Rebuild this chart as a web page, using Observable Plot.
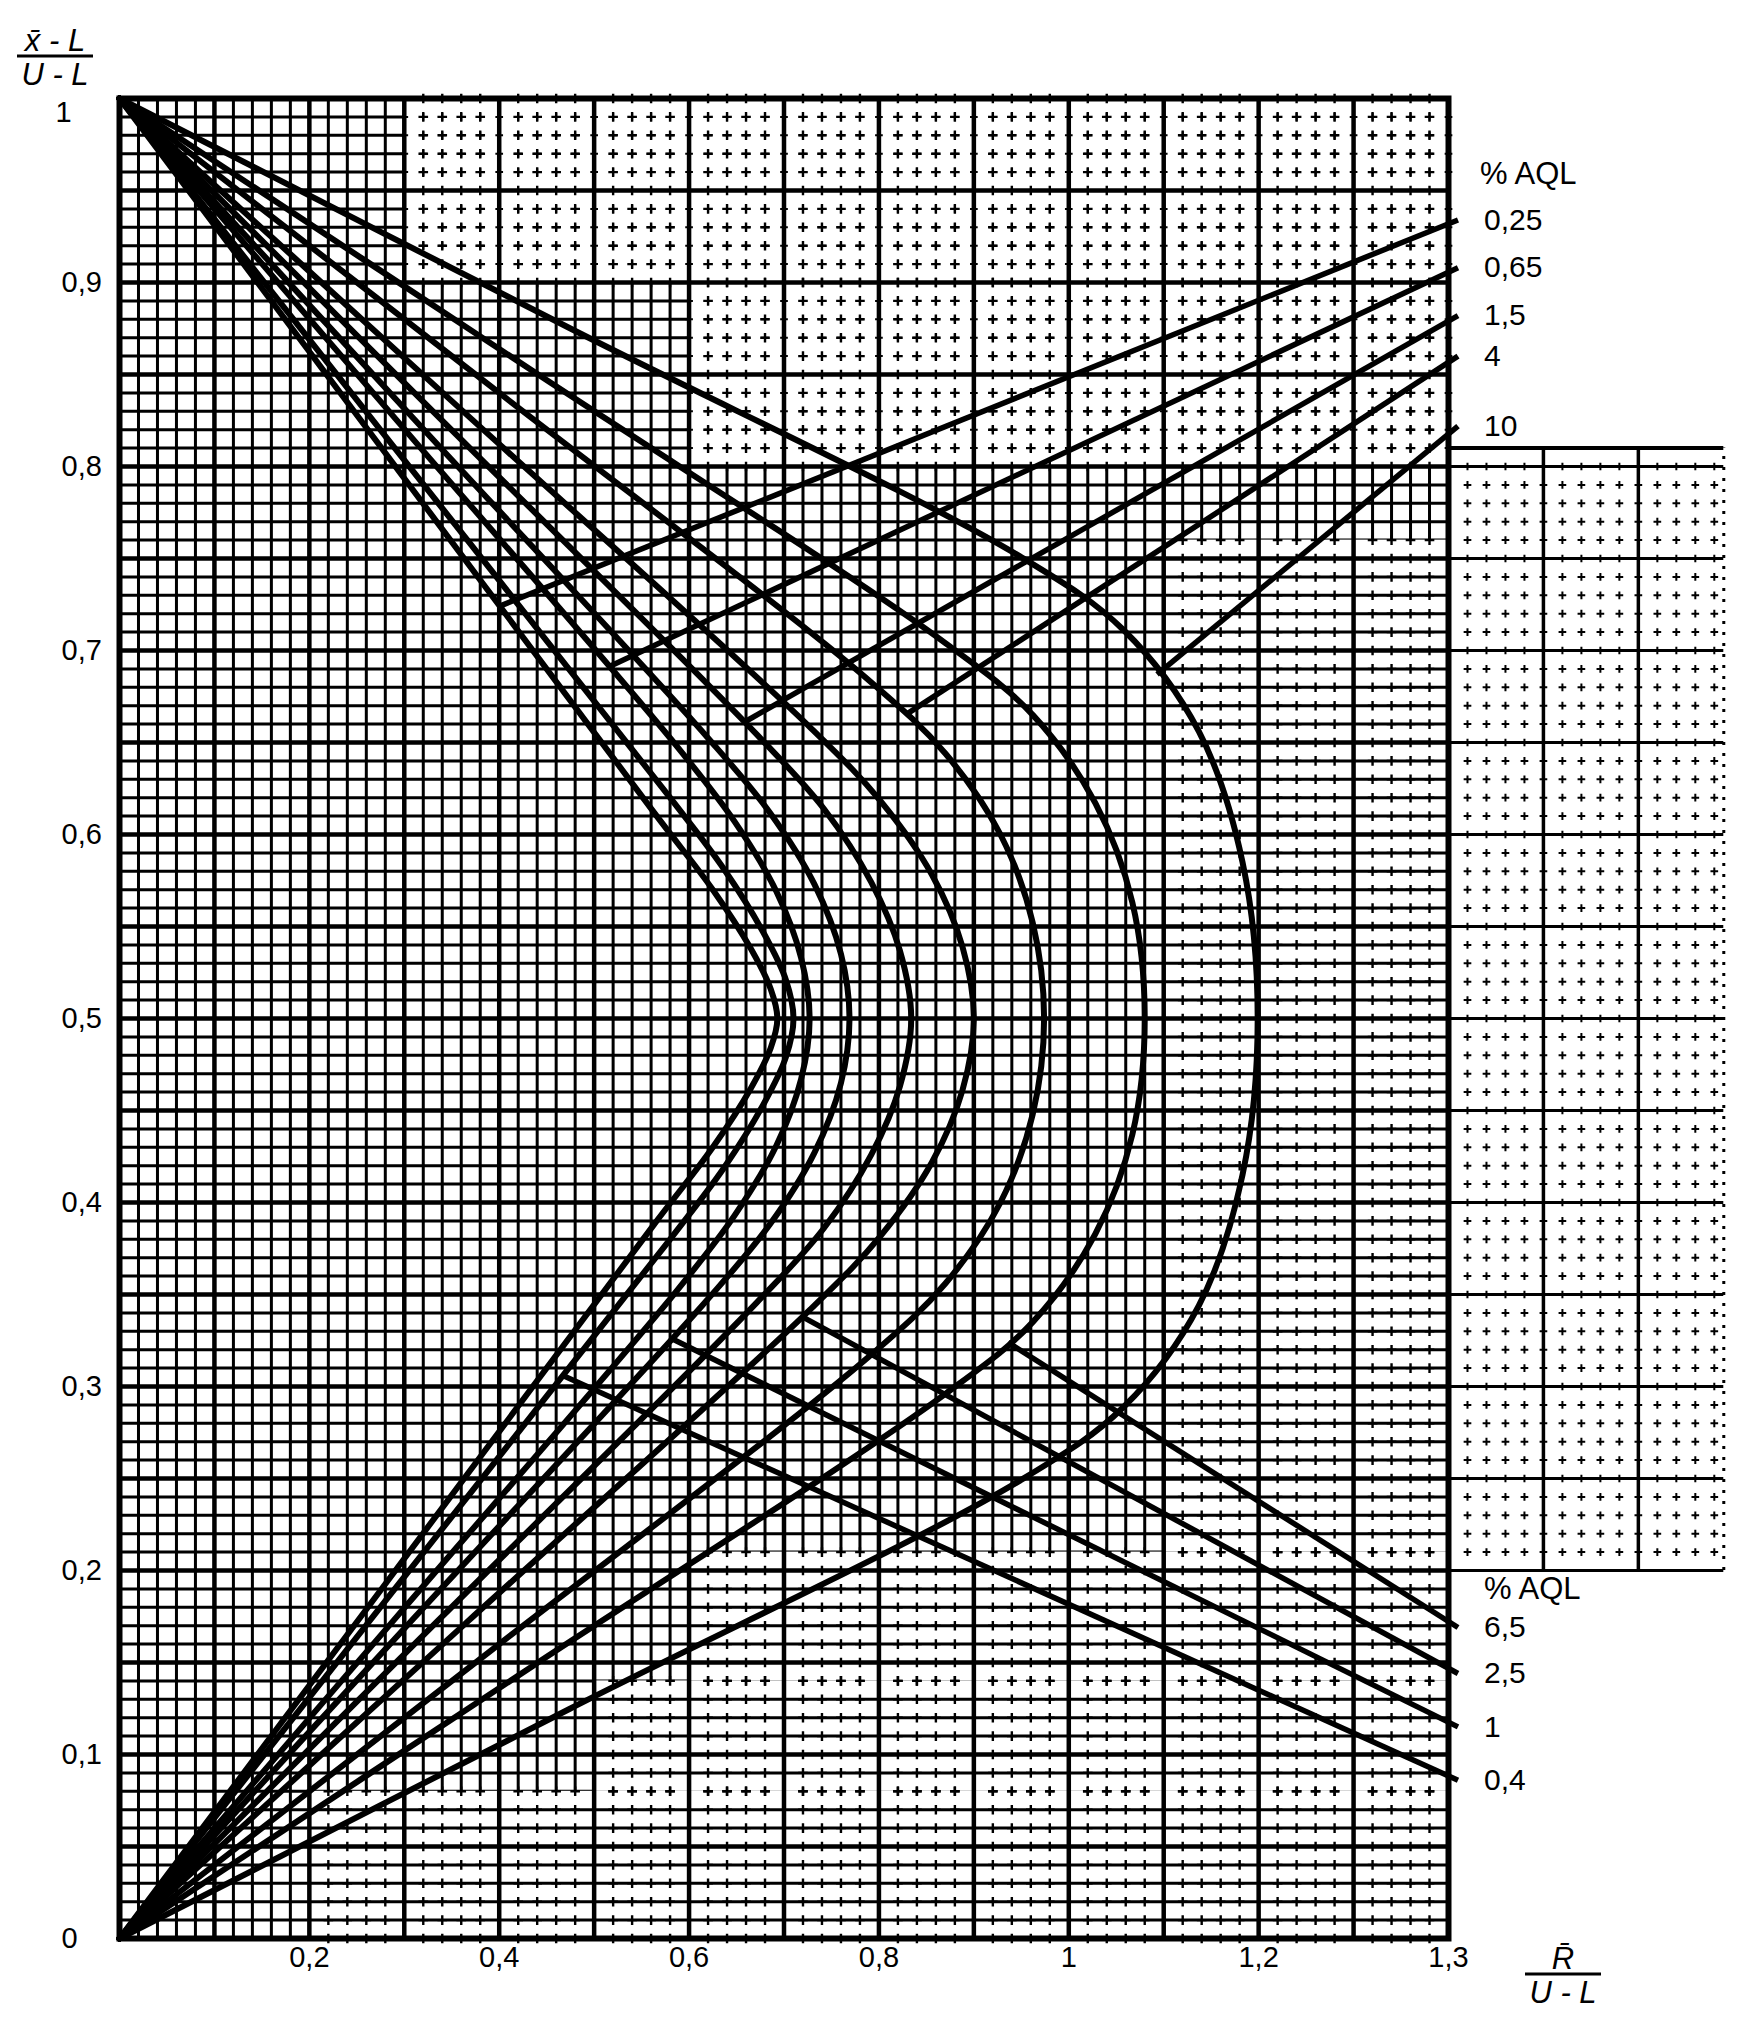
<!DOCTYPE html>
<html><head><meta charset="utf-8">
<script src="https://cdn.jsdelivr.net/npm/d3@7"></script>
<script src="https://cdn.jsdelivr.net/npm/@observablehq/plot@0.6"></script>
<style>body{margin:0;background:#fff}svg{display:block}</style>
</head><body><div id="chart"></div>
<script>
// ---- data ----
const aqlCurveNames = ["0,25","0,4","0,65","1","1,5","2,5","4","6,5","10"];
const curve_0_25 = [[0,0],[0.282,0.194],[0.563,0.388],[0.625,0.430],[0.665,0.462],[0.686,0.484],[0.693,0.5],[0.686,0.516],[0.665,0.538],[0.625,0.570],[0.563,0.612],[0.282,0.806],[0,1]];
const curve_0_4  = [[0,0],[0.29,0.19],[0.58,0.380],[0.637,0.419],[0.678,0.453],[0.702,0.479],[0.71,0.5],[0.702,0.521],[0.678,0.547],[0.637,0.581],[0.58,0.620],[0.29,0.81],[0,1]];
const curve_0_65 = [[0,0],[0.294,0.176],[0.587,0.352],[0.648,0.393],[0.692,0.431],[0.718,0.467],[0.727,0.5],[0.718,0.533],[0.692,0.569],[0.648,0.607],[0.587,0.648],[0.294,0.824],[0,1]];
const curve_1    = [[0,0],[0.31,0.174],[0.619,0.347],[0.685,0.388],[0.732,0.427],[0.760,0.465],[0.769,0.5],[0.760,0.535],[0.732,0.573],[0.685,0.612],[0.619,0.653],[0.31,0.826],[0,1]];
const curve_1_5  = [[0,0],[0.336,0.173],[0.672,0.346],[0.742,0.386],[0.792,0.426],[0.822,0.463],[0.834,0.5],[0.822,0.537],[0.792,0.574],[0.742,0.614],[0.672,0.654],[0.336,0.827],[0,1]];
const curve_2_5  = [[0,0],[0.364,0.171],[0.728,0.342],[0.802,0.382],[0.856,0.422],[0.888,0.461],[0.900,0.5],[0.888,0.539],[0.856,0.578],[0.802,0.618],[0.728,0.658],[0.364,0.829],[0,1]];
const curve_4    = [[0,0],[0.395,0.158],[0.789,0.316],[0.870,0.356],[0.928,0.400],[0.962,0.448],[0.974,0.5],[0.962,0.552],[0.928,0.600],[0.870,0.644],[0.789,0.684],[0.395,0.842],[0,1]];
const curve_6_5  = [[0,0],[0.435,0.148],[0.87,0.296],[0.962,0.335],[1.028,0.383],[1.067,0.437],[1.08,0.5],[1.067,0.563],[1.028,0.617],[0.962,0.665],[0.87,0.704],[0.435,0.852],[0,1]];
const curve_10   = [[0,0],[0.475,0.125],[0.949,0.249],[1.058,0.289],[1.137,0.344],[1.183,0.415],[1.199,0.5],[1.183,0.585],[1.137,0.656],[1.058,0.711],[0.949,0.751],[0.475,0.875],[0,1]];
const curveList = [curve_0_25, curve_0_4, curve_0_65, curve_1, curve_1_5, curve_2_5, curve_4, curve_6_5, curve_10];

// extension lines labelled at the right edge
const upperLabels = ["0,25","0,65","1,5","4","10"];
const upperStart  = [[0.40,0.724],[0.515,0.691],[0.658,0.661],[0.828,0.665],[1.093,0.687]];
const upperEnd    = [[1.41,0.934],[1.41,0.908],[1.41,0.882],[1.41,0.860],[1.41,0.822]];
const lowerLabels = ["6,5","2,5","1","0,4"];
const lowerStart  = [[0.936,0.324],[0.719,0.338],[0.582,0.326],[0.467,0.306]];
const lowerEnd    = [[1.41,0.169],[1.41,0.144],[1.41,0.115],[1.41,0.086]];
const groupHeader = "% AQL";

const xTickValues = [0.2,0.4,0.6,0.8,1,1.2,1.4];
const xTickLabels = ["0,2","0,4","0,6","0,8","1","1,2","1,3"];
const yTickValues = [0,0.1,0.2,0.3,0.4,0.5,0.6,0.7,0.8,0.9,1];
const yTickLabels = ["0","0,1","0,2","0,3","0,4","0,5","0,6","0,7","0,8","0,9","1"];

// ---- tables built from the arrays ----
const curveRows = curveList.flatMap((pts, c) => pts.map(([x, y]) => ({aql: aqlCurveNames[c], x, y})));
const extRows = [
  ...upperLabels.map((l, i) => ({aql: l, x1: upperStart[i][0], y1: upperStart[i][1], x2: upperEnd[i][0], y2: upperEnd[i][1]})),
  ...lowerLabels.map((l, i) => ({aql: l, x1: lowerStart[i][0], y1: lowerStart[i][1], x2: lowerEnd[i][0], y2: lowerEnd[i][1]}))
];
const yTickRows = yTickValues.map((v, i) => ({v, label: yTickLabels[i]}));

// graph-paper grid
const xMinor = d3.range(1, 70).filter(i => i % 5).map(i => i * 0.02);
const yMinor = d3.range(1, 100).filter(i => i % 5).map(i => i / 100);
const xMajor = d3.range(1, 14).map(i => i / 10);
const yMajor = d3.range(1, 20).map(i => i / 20);
// parts of the paper where the fine rulings are printed as dots / ticks only
const dottedBoth = [{x1:0.3,x2:1.4,y1:0.9,y2:1},{x1:0.6,x2:1.4,y1:0.8,y2:0.9}];
const dottedVert = [{x1:1.1,x2:1.4,y1:0.21,y2:0.76},{x1:0.2,x2:1.4,y1:0,y2:0.08},{x1:0.5,x2:1.4,y1:0.08,y2:0.14},{x1:0.6,x2:1.4,y1:0.14,y2:0.21}];
const allRegions = [...dottedBoth, ...dottedVert];
const regionHLines = [];
for (const r of dottedVert) for (const y of yMinor) if (y > r.y1 && y < r.y2) regionHLines.push({y, x1: r.x1, x2: r.x2});
const regionDots = [];
const yAll = d3.range(0, 101).map(i => i / 100);
for (const r of allRegions) for (const x of xMinor) for (const y of yAll) if (x > r.x1 && x < r.x2 && y >= r.y1 - 1e-9 && y <= r.y2 + 1e-9) regionDots.push({x, y});
const regionHDots = [];
const xAll = d3.range(0, 71).map(i => i * 0.02);
for (const r of dottedBoth) for (const y of yMinor) for (const x of xAll) if (y > r.y1 && y < r.y2 && x >= r.x1 - 1e-9 && x <= r.x2 + 1e-9) regionHDots.push({x, y});
// patch of paper to the right of the frame
const patchX = [1.4, 1.69], patchY = [0.2, 0.81];
const patchH = d3.range(4, 17).map(i => i / 20);
const patchV = [1.5, 1.6];
const patchDots = d3.cross(d3.range(71, 85).map(i => i * 0.02), d3.range(21, 81).map(i => i / 100)).map(([x, y]) => ({x, y}));

const chart = Plot.plot({
  width: 1747, height: 2026,
  marginLeft: 119, marginRight: 299, marginTop: 98, marginBottom: 88,
  x: {domain: [0, 1.4], axis: null},
  y: {domain: [0, 1], axis: null},
  style: {fontFamily: "'Liberation Sans', Arial, sans-serif", background: "#fff"},
  marks: [
    // patch on the right
    Plot.ruleY(patchH, {x1: patchX[0], x2: patchX[1], stroke: "#000", strokeWidth: 3}),
    Plot.ruleY([patchY[1]], {x1: patchX[0], x2: patchX[1], stroke: "#000", strokeWidth: 4}),
    Plot.ruleX(patchV, {y1: patchY[0], y2: patchY[1], stroke: "#000", strokeWidth: 3.5}),
    Plot.ruleX([patchX[1]], {y1: patchY[0], y2: patchY[1], stroke: "#000", strokeWidth: 3, strokeDasharray: "3,8"}),
    Plot.dot(patchDots, {x: "x", y: "y", r: 2.6, symbol: "plus", stroke: "#000", strokeWidth: 2}),
    // fine rulings
    Plot.ruleX(xMinor, {y1: 0, y2: 1, stroke: "#000", strokeWidth: 3}),
    Plot.ruleY(yMinor, {x1: 0, x2: 1.4, stroke: "#000", strokeWidth: 3}),
    // dotted parts: blank them, then redraw
    Plot.rect(allRegions, {x1: "x1", x2: "x2", y1: "y1", y2: "y2", fill: "#fff"}),
    Plot.ruleY(regionHLines, {y: "y", x1: "x1", x2: "x2", stroke: "#000", strokeWidth: 3}),
    Plot.dot(regionDots, {x: "x", y: "y", r: 3.2, symbol: "plus", stroke: "#000", strokeWidth: 2.4}),
    Plot.dot(regionHDots, {x: "x", y: "y", r: 2.6, symbol: "plus", stroke: "#000", strokeWidth: 2}),
    // heavy rulings
    Plot.ruleX(xMajor, {y1: 0, y2: 1, stroke: "#000", strokeWidth: 4.5}),
    Plot.ruleY(yMajor, {x1: 0, x2: 1.4, stroke: "#000", strokeWidth: 4.5}),
    Plot.frame({stroke: "#000", strokeWidth: 6}),
    // acceptance curves
    Plot.line(curveRows, {x: "x", y: "y", z: "aql", curve: "catmull-rom", stroke: "#000", strokeWidth: 6, strokeLinejoin: "round"}),
    Plot.link(extRows, {x1: "x1", y1: "y1", x2: "x2", y2: "y2", stroke: "#000", strokeWidth: 5.5}),
    // labels at the right
    Plot.text(extRows, {x: "x2", y: "y2", text: "aql", textAnchor: "start", dx: 26, fontSize: 30, fill: "#000"}),
    Plot.text([groupHeader], {x: upperEnd[0][0], y: upperEnd[0][1], text: d => d, textAnchor: "start", dx: 22, dy: -46, fontSize: 31, fill: "#000"}),
    Plot.text([groupHeader], {x: lowerEnd[0][0], y: lowerEnd[0][1], text: d => d, textAnchor: "start", dx: 26, dy: -38, fontSize: 31, fill: "#000"}),
    // tick labels
    Plot.text(yTickRows.filter(d => d.v < 1), {y: "v", text: "label", frameAnchor: "left", dx: -58, fontSize: 29, fill: "#000"}),
    Plot.text(yTickRows.filter(d => d.v === 1), {y: "v", text: "label", frameAnchor: "left", dx: -64, dy: 14, fontSize: 29, fill: "#000"}),
    Plot.text(xTickValues, {x: d => d, text: (d, i) => xTickLabels[i], frameAnchor: "bottom", dy: 28, fontSize: 29, fill: "#000"})
  ]
});
document.getElementById("chart").appendChild(chart);

// axis titles (fractions)
const svg = d3.select(chart);
function fraction(cx, yTop, num, den) {
  const g = svg.append("g").attr("font-family", "'Liberation Sans', Arial, sans-serif").attr("font-style", "italic").attr("font-size", 31).attr("fill", "#000").attr("text-anchor", "middle");
  g.append("text").attr("x", cx).attr("y", yTop + 24).text(num);
  g.append("line").attr("x1", cx - 38).attr("x2", cx + 38).attr("y1", yTop + 29).attr("y2", yTop + 29).attr("stroke", "#000").attr("stroke-width", 3);
  g.append("text").attr("x", cx).attr("y", yTop + 58).text(den);
  return g;
}
fraction(55, 27, "x\u0304 - L", "U - L");
fraction(1563, 1945, "R\u0304", "U - L");
</script></body></html>
